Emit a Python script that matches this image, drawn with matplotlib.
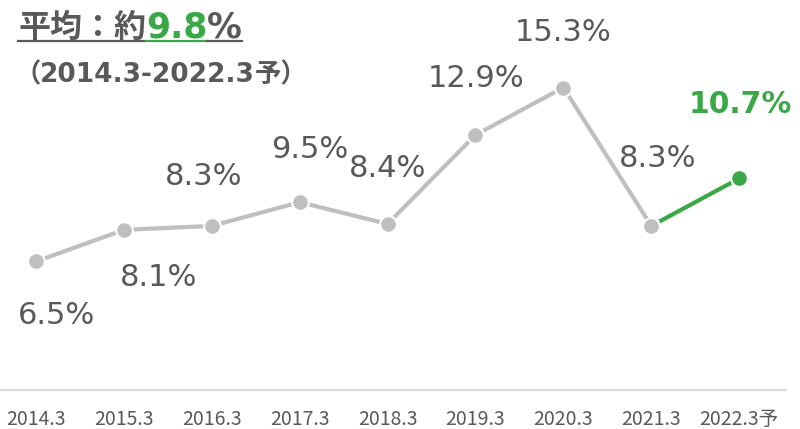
import matplotlib
matplotlib.use("Agg")
import matplotlib.pyplot as plt
from matplotlib.lines import Line2D

# data
years = ["2014.3", "2015.3", "2016.3", "2017.3", "2018.3",
         "2019.3", "2020.3", "2021.3", "2022.3予"]
rates = [6.5, 8.1, 8.3, 9.5, 8.4, 12.9, 15.3, 8.3, 10.7]
average = 9.8
period_start = "2014.3"
period_end = "2022.3"

# label offsets in pixels (dx, dy) from each point
label_offsets = [(21, -54), (35, -48), (-8, 49), (10, 53), (0, 55),
                 (1, 56), (0, 55), (6, 67), (1, 74)]

GRAY_LINE = "#BFBFBF"
GRAY_TEXT = "#595959"
GREEN = "#3AA846"
CJK = ["Noto Sans CJK JP"]
LATIN = ["DejaVu Sans"]

fig = plt.figure(figsize=(8, 4.29), dpi=100)
W, H = 800, 429
ax = fig.add_axes([0, 39 / H, 786 / W, 380 / H])

x = list(range(len(years)))
ax.plot(x[:-1], rates[:-1], color=GRAY_LINE, lw=3, solid_capstyle="butt",
        marker="o", ms=12, mfc=GRAY_LINE, mec="white", mew=1.5, zorder=2)
ax.plot(x[-2:], rates[-2:], color=GREEN, lw=3, zorder=1)
ax.plot(x[-2], rates[-2], "o", ms=12, mfc=GRAY_LINE, mec="white", mew=1.5, zorder=3)
ax.plot(x[-1], rates[-1], "o", ms=12, mfc=GREEN, mec="white", mew=1.5, zorder=3)

for i, (v, (dx, dy)) in enumerate(zip(rates, label_offsets)):
    last = i == len(rates) - 1
    ax.annotate(f"{v}%", (i, v), xytext=(dx, dy), textcoords="offset pixels",
                ha="center", va="center", fontsize=22 if not last else 21.5,
                fontweight="bold" if last else "normal",
                color=GREEN if last else GRAY_TEXT, family=LATIN)

ax.set_xlim(-36 / 87.9, (786 - 36) / 87.9)
ax.set_ylim(0, 380 / 19.77)
ax.set_xticks(x)
ax.set_xticklabels(years, fontsize=14, color=GRAY_TEXT, family=CJK)
ax.tick_params(axis="x", length=0, pad=14)
ax.set_yticks([])
for s in ["top", "left", "right"]:
    ax.spines[s].set_visible(False)
ax.spines["bottom"].set_color("#D9D9D9")
ax.spines["bottom"].set_linewidth(1.5)

renderer = fig.canvas.get_renderer()


def chain(parts, x0, y, weight="bold"):
    """Draws text pieces one after another, returns their x spans."""
    spans = []
    cur = x0
    for txt, col, fam, fs in parts:
        t = fig.text(cur, y, txt, color=col, family=fam, fontsize=fs,
                     fontweight=weight, ha="left", va="baseline")
        bb = t.get_window_extent(renderer)
        spans.append((cur, bb.x1 / W, col))
        cur = bb.x1 / W
    return spans


# title: 平均：約9.8%
segs = chain([("平均：約", GRAY_TEXT, CJK, 23),
              (f"{average}", GREEN, LATIN, 25),
              ("%", GRAY_TEXT, LATIN, 25)], 18 / W, 1 - 37 / H)
uy = 1 - 41 / H
for x0, x1, col in segs:
    fig.add_artist(Line2D([x0, x1], [uy, uy], color=col, lw=1.6,
                          transform=fig.transFigure))

# subtitle
chain([("（", GRAY_TEXT, CJK, 19),
       (f"{period_start}-{period_end}", GRAY_TEXT, LATIN, 19),
       ("予）", GRAY_TEXT, CJK, 19)], 14 / W, 1 - 82 / H)

fig.savefig("out.png", dpi=100)
